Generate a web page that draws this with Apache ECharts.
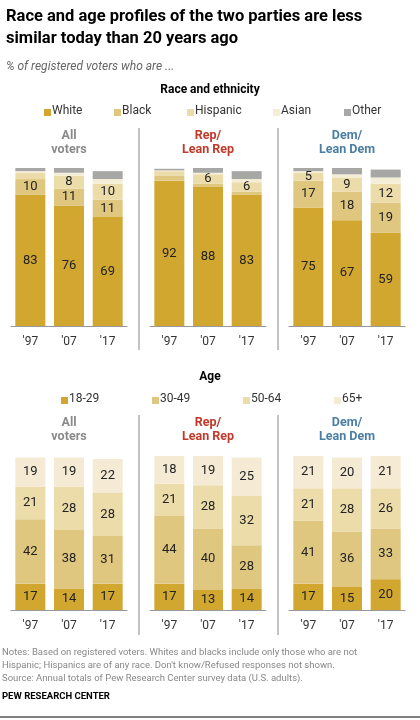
<!DOCTYPE html>
<html><head><meta charset="utf-8">
<script src="https://cdn.jsdelivr.net/npm/echarts@6/dist/echarts.min.js"></script>
<style>html,body{margin:0;padding:0;background:#fff}#c{width:420px;height:720px}</style>
</head><body><div id="c"></div>
<script>
const years = ["'97","'07","'17"];
const groups = ["All\nvoters","Rep/\nLean Rep","Dem/\nLean Dem"];
const groupColors = ["#8a8a8a","#c0392b","#4a7ea3"];
const raceNames = ["White","Black","Hispanic","Asian","Other"];
const raceColors = ["#d1a730","#e0c77f","#ecdcaa","#f5eed6","#a7a7a6"];
// [group][race][year]
const raceAll = [[83,76,69],[10,11,11],[4,8,10],[1,2,3],[2,3,5]];
const raceRep = [[92,88,83],[3,2,2],[3,6,6],[0.5,1,2],[1,3,5]];
const raceDem = [[75,67,59],[17,18,19],[5,9,12],[1,2,4],[2,4,5]];
const ageNames = ["18-29","30-49","50-64","65+"];
const ageColors = ["#d1a730","#e0c77f","#ecdcaa","#f5ebd5"];
const ageAll = [[17,14,17],[42,38,31],[21,28,28],[19,19,22]];
const ageRep = [[17,13,14],[44,40,28],[21,28,32],[18,19,25]];
const ageDem = [[17,15,20],[41,36,33],[21,28,26],[21,20,21]];

const F = "Roboto, 'Liberation Sans', sans-serif";
const lefts = [11,150,289];
const grids=[], xAxes=[], yAxes=[], series=[];
function addPanel(gi, top, height, data, names, colors, labelSet){
  grids.push({left:lefts[gi%3], width:116, top:top, height:height});
  xAxes.push({type:'category', gridIndex:gi, data:years, axisTick:{show:false},
    axisLine:{lineStyle:{color:'#999'}}, axisLabel:{color:'#333', fontSize:12, fontFamily:F, margin:10}});
  yAxes.push({type:'value', gridIndex:gi, min:0, max:100, show:false, splitLine:{show:false}});
  data.forEach((vals,k)=>{
    series.push({type:'bar', name:names[k], xAxisIndex:gi, yAxisIndex:gi, stack:'s'+gi,
      barWidth:30, data:vals, itemStyle:{color:colors[k]}, silent:true,
      label:{show:labelSet[k], position:'inside', color:'#222', fontSize:13, fontFamily:F,
        formatter:p=>p.value>=5?p.value:''}});
  });
}
[raceAll,raceRep,raceDem].forEach((d,i)=>addPanel(i,168,158,d,raceNames,raceColors,[true,true,true,false,false]));
[ageAll,ageRep,ageDem].forEach((d,i)=>addPanel(i+3,456,154,d,ageNames,ageColors,[true,true,true,true]));

const g=[];
function txt(x,y,t,st){g.push({type:'text',left:x,top:y,style:Object.assign({text:t,fontFamily:F,fontSize:12,fill:'#333'},st)});}
txt(6,6,'Race and age profiles of the two parties are less\nsimilar today than 20 years ago',{fontSize:16.5,fontWeight:'bold',fill:'#000',lineHeight:22});
txt(6,61,'% of registered voters who are ...',{fontStyle:'italic',fill:'#666',fontSize:12});
g.push({type:'text',x:210,y:84,style:{text:'Race and ethnicity',fontFamily:F,fontSize:12,fontWeight:'bold',fill:'#000',textAlign:'center'}});
g.push({type:'text',x:210,y:371,style:{text:'Age',fontFamily:F,fontSize:12,fontWeight:'bold',fill:'#000',textAlign:'center'}});
const raceLegX=[44,114,187,273,344];
raceNames.forEach((n,i)=>{g.push({type:'rect',shape:{x:raceLegX[i],y:109,width:7,height:7},style:{fill:raceColors[i]}});txt(raceLegX[i]+8,105,n,{fontSize:12});});
const ageLegX=[61,152,243,334];
ageNames.forEach((n,i)=>{g.push({type:'rect',shape:{x:ageLegX[i],y:397,width:7,height:7},style:{fill:ageColors[i]}});txt(ageLegX[i]+8,393,n,{fontSize:12});});
[[128,350],[415,635]].forEach(([y1,y2])=>{[139,278].forEach(x=>g.push({type:'line',shape:{x1:x,y1:y1,x2:x,y2:y2},style:{stroke:'#888',lineWidth:1}}));});
groups.forEach((t,i)=>{const cx=lefts[i]+58;
  [129,416].forEach(y=>g.push({type:'text',x:cx,y:y,style:{text:t,fontFamily:F,fontSize:12.5,fontWeight:'bold',fill:groupColors[i],textAlign:'center',lineHeight:14}}));});
txt(2,646,"Notes: Based on registered voters. Whites and blacks include only those who are not\nHispanic; Hispanics are of any race. Don't know/Refused responses not shown.\nSource: Annual totals of Pew Research Center survey data (U.S. adults).",{fontSize:9.5,fill:'#888',lineHeight:13});
txt(2,692,'PEW RESEARCH CENTER',{fontSize:9.5,fontWeight:'bold',fill:'#000'});
g.push({type:'line',shape:{x1:0,y1:717,x2:420,y2:717},style:{stroke:'#000',lineWidth:1}});

const chart=echarts.init(document.getElementById('c'));
chart.setOption({animation:false, grid:grids, xAxis:xAxes, yAxis:yAxes, series:series, graphic:g});
</script></body></html>
